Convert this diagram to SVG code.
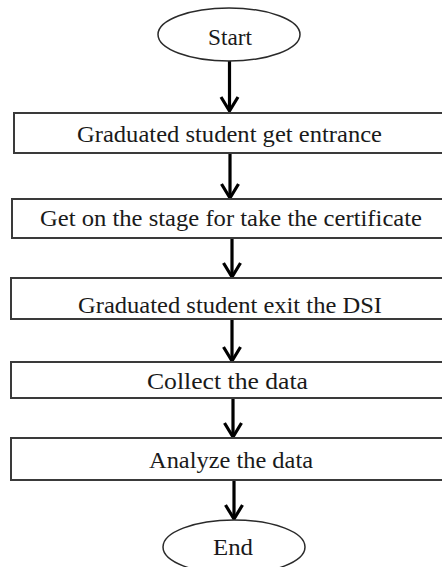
<svg xmlns="http://www.w3.org/2000/svg" width="442" height="567" viewBox="0 0 442 567">
<style>
.box{fill:#fff;stroke:#3a3a3a;stroke-width:2}
.term{fill:#fff;stroke:#2a2a2a;stroke-width:1.5}
.lbl{font-family:'Liberation Serif','Times New Roman',serif;font-size:23px;fill:#1a1a1a}
.shaft{stroke:#000;stroke-width:3.2;fill:none}
.head{stroke:#000;stroke-width:3.2;fill:none;stroke-linejoin:miter;stroke-linecap:butt}
</style>
<rect width="442" height="567" fill="#fff"/>
<g id="connectors">
<path class="shaft" d="M229.5,60 V110"/><path class="head" d="M221,97 L229.5,111 L238,97"/>
<path class="shaft" d="M230,153 V196"/><path class="head" d="M221.5,184 L230,198 L238.5,184"/>
<path class="shaft" d="M232,238 V275"/><path class="head" d="M223.5,263 L232,277 L240.5,263"/>
<path class="shaft" d="M232,319 V359"/><path class="head" d="M223.5,347 L232,361 L240.5,347"/>
<path class="shaft" d="M233,398 V435"/><path class="head" d="M224.5,423 L233,437 L241.5,423"/>
<path class="shaft" d="M234,480 V517"/><path class="head" d="M225.5,505 L234,519 L242.5,505"/>
</g>
<g id="start">
<ellipse class="term" cx="229" cy="34.5" rx="71" ry="26.5"/>
<text class="lbl" x="230" y="45" text-anchor="middle" textLength="44" lengthAdjust="spacingAndGlyphs">Start</text>
</g>
<g id="n1">
<rect class="box" x="14" y="113" width="440" height="40"/>
<text class="lbl" x="77" y="142" textLength="305" lengthAdjust="spacingAndGlyphs">Graduated student get entrance</text>
</g>
<g id="n2">
<rect class="box" x="12" y="199" width="440" height="39"/>
<text class="lbl" x="40" y="226" textLength="382" lengthAdjust="spacingAndGlyphs">Get on the stage for take the certificate</text>
</g>
<g id="n3">
<rect class="box" x="11" y="278" width="440" height="41"/>
<text class="lbl" x="78" y="313" textLength="304" lengthAdjust="spacingAndGlyphs">Graduated student exit the DSI</text>
</g>
<g id="n4">
<rect class="box" x="11" y="362" width="440" height="36"/>
<text class="lbl" x="147" y="389" textLength="161" lengthAdjust="spacingAndGlyphs">Collect the data</text>
</g>
<g id="n5">
<rect class="box" x="11" y="438" width="440" height="42"/>
<text class="lbl" x="149" y="468" textLength="164" lengthAdjust="spacingAndGlyphs">Analyze the data</text>
</g>
<g id="end">
<ellipse class="term" cx="234" cy="547" rx="71" ry="27"/>
<text class="lbl" x="233" y="555" text-anchor="middle" textLength="40" lengthAdjust="spacingAndGlyphs">End</text>
</g>
</svg>
